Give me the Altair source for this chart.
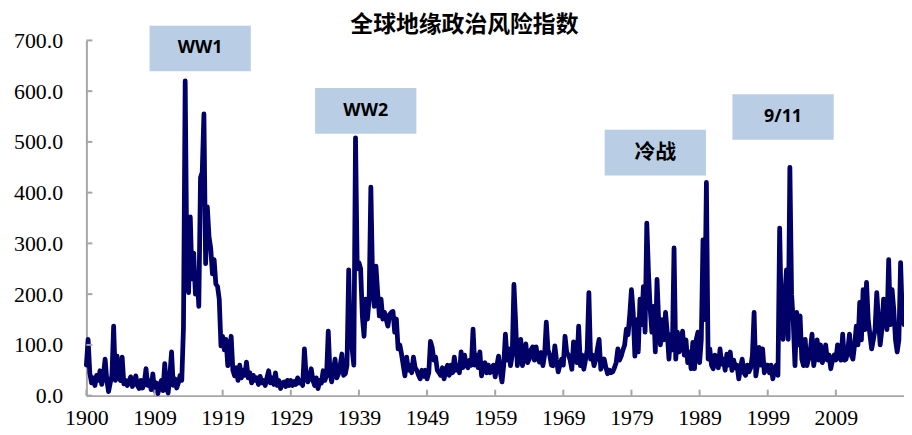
import altair as alt
import pandas as pd

# ---- Geopolitical risk index (quarterly points, by decade) ----
decade_starts = [1900, 1910, 1920, 1930, 1940, 1950, 1960, 1970, 1980, 1990, 2000, 2010]

gpr_1900s = [60, 111, 45, 25, 35, 20, 40, 30, 49, 22, 40, 72, 30, 8, 25, 40,
             137, 30, 78, 35, 30, 76, 23, 30, 20, 28, 37, 18, 25, 39, 20, 14,
             30, 15, 25, 53, 20, 30, 12, 43]
gpr_1910s = [10, 25, 4, 20, 30, 10, 63, 15, 5, 40, 86, 20, 33, 15, 25, 40,
             30, 135, 620, 250, 203, 352, 230, 281, 200, 242, 176, 430,
             440, 555, 260, 372, 313, 290, 240, 268, 220, 215, 190, 98]
gpr_1920s = [117, 90, 111, 59, 70, 117, 50, 39, 55, 30, 60, 35, 50, 40, 66, 35,
             45, 25, 40, 30, 35, 22, 38, 25, 30, 20, 35, 49, 25, 35, 22, 45,
             20, 30, 14, 25, 27, 18, 30, 20]
gpr_1930s = [30, 20, 28, 22, 35, 25, 30, 20, 92, 40, 27, 35, 53, 30, 20, 35,
             14, 30, 25, 49, 30, 40, 127, 45, 27, 50, 72, 35, 43, 60, 82, 40,
             43, 60, 248, 100, 92, 60, 508, 250]
gpr_1940s = [262, 250, 157, 117, 190, 151, 190, 411, 229, 176, 255, 203,
             157, 190, 151, 164, 150, 137, 160, 164, 166, 125, 151, 92,
             100, 82, 60, 39, 76, 50, 60, 45, 76, 55, 50, 40, 33, 50, 38, 50]
gpr_1950s = [33, 45, 107, 95, 70, 76, 50, 45, 40, 55, 33, 50, 60, 40, 60, 45,
             76, 50, 60, 45, 86, 55, 80, 60, 55, 70, 60, 131, 60, 80, 55, 86,
             39, 60, 65, 45, 60, 45, 55, 60]
gpr_1960s = [37, 60, 78, 45, 27, 60, 121, 70, 92, 59, 80, 219, 145, 59, 90, 111,
             59, 80, 102, 65, 72, 90, 96, 70, 96, 75, 66, 85, 59, 80, 145, 90,
             80, 60, 59, 98, 70, 47, 60, 72]
gpr_1970s = [60, 117, 85, 80, 70, 52, 106, 75, 65, 137, 59, 80, 52, 70, 90, 203,
             72, 80, 59, 70, 92, 111, 52, 65, 72, 55, 43, 50, 45, 47, 55, 65,
             92, 70, 78, 90, 100, 131, 120, 160]
gpr_1980s = [209, 164, 78, 150, 86, 190, 140, 215, 125, 340, 242, 170,
             125, 176, 86, 229, 145, 100, 150, 110, 164, 125, 72, 120,
             90, 291, 72, 125, 86, 100, 127, 80, 110, 65, 86, 53, 105, 53, 110, 125]
gpr_1990s = [65, 110, 307, 150, 420, 72, 92, 60, 53, 80, 72, 55, 92, 62, 72, 50,
             82, 60, 86, 50, 70, 55, 60, 33, 55, 72, 45, 40, 60, 47, 55, 80,
             164, 39, 60, 95, 60, 92, 45, 60]
gpr_2000s = [60, 45, 60, 33, 50, 60, 40, 330, 150, 111, 196, 248, 111, 450, 200, 145,
             59, 164, 100, 157, 72, 59, 111, 59, 72, 90, 121, 59, 80, 110, 70, 100,
             65, 75, 100, 70, 80, 53, 70, 80]
gpr_2010s = [70, 100, 75, 70, 121, 70, 72, 90, 121, 80, 72, 100, 137, 100, 184, 110,
             209, 130, 223, 150, 120, 92, 110, 130, 203, 150, 100, 130,
             190, 160, 130, 268, 140, 209, 170, 110, 86, 110, 262, 157]
gpr_last = [(2020.0, 140)]

# ---- annotations ----
ann_labels = ["WW1", "WW2", "冷战", "9/11"]
ann_years = [1916.7, 1941.0, 1983.5, 2002.25]
ann_levels = [684, 561, 479, 549]

title_text = "全球地缘政治风险指数"

# ---- axes ----
x_tick_years = [1900, 1910, 1920, 1930, 1940, 1950, 1960, 1970, 1980, 1990, 2000, 2010]
y_tick_values = [0, 100, 200, 300, 400, 500, 600, 700]

series = [gpr_1900s, gpr_1910s, gpr_1920s, gpr_1930s, gpr_1940s, gpr_1950s,
          gpr_1960s, gpr_1970s, gpr_1980s, gpr_1990s, gpr_2000s, gpr_2010s]
rows = []
for start, vals in zip(decade_starts, series):
    for i, v in enumerate(vals):
        rows.append({"year": start + i * 0.25, "gpr": v})
for yr, v in gpr_last:
    rows.append({"year": yr, "gpr": v})
df = pd.DataFrame(rows)

half_w, half_h = 7.43, 45
ann = pd.DataFrame({"label": ann_labels, "year": ann_years, "level": ann_levels})
ann["x1"] = ann["year"] - half_w
ann["x2"] = ann["year"] + half_w
ann["y1"] = ann["level"] - half_h
ann["y2"] = ann["level"] + half_h

W, H = 824, 358
AXIS_GRAY = "#a6a6a6"
xscale = alt.Scale(domain=[1900, 2020], nice=False, zero=False)
yscale = alt.Scale(domain=[0, 700], nice=False)

xaxis = alt.Axis(values=x_tick_years, ticks=False, grid=False, title=None,
                 labelExpr="datum.value == 1900 ? '1900' : '' + (datum.value - 1)",
                 labelFont="Liberation Serif", labelFontSize=22,
                 labelColor="black", labelPadding=12, labelFlush=False,
                 domainColor=AXIS_GRAY, domainWidth=2, labelOverlap=False)
yaxis = alt.Axis(values=y_tick_values, format=".1f", ticks=False, grid=False, title=None,
                 labelFont="Liberation Serif", labelFontSize=22,
                 labelColor="black", labelPadding=24, labelFlush=False,
                 domainColor=AXIS_GRAY, domainWidth=2)


def X(field):
    return alt.X(field, scale=xscale, axis=xaxis, title=None)


def Y(field):
    return alt.Y(field, scale=yscale, axis=yaxis, title=None)


line = alt.Chart(df).mark_line(
    color="#000066", strokeWidth=4.8, strokeJoin="round", strokeCap="round"
).encode(x=X("year:Q"), y=Y("gpr:Q"))

xt = alt.Chart(pd.DataFrame({"t": x_tick_years})).mark_rule(
    color=AXIS_GRAY, strokeWidth=2
).encode(x=X("t:Q"), y=alt.value(H), y2=alt.value(H - 6))

yt = alt.Chart(pd.DataFrame({"t": y_tick_values})).mark_rule(
    color=AXIS_GRAY, strokeWidth=2
).encode(y=Y("t:Q"), x=alt.value(0), x2=alt.value(6))

boxes = alt.Chart(ann).mark_rect(color="#b9cde5").encode(
    x=X("x1:Q"), x2="x2:Q", y=Y("y1:Q"), y2="y2:Q",
)

txt_latin = alt.Chart(ann).transform_filter(alt.datum.label != "冷战").mark_text(
    font="Open Sans", fontSize=18, fontWeight="bold", color="black",
    align="center", baseline="middle"
).encode(x=X("year:Q"), y=Y("level:Q"), text="label:N")

txt_cjk = alt.Chart(ann).transform_filter(alt.datum.label == "冷战").mark_text(
    font="Noto Sans CJK SC", fontSize=21, fontWeight="bold", color="black",
    align="center", baseline="middle"
).encode(x=X("year:Q"), y=Y("level:Q"), text="label:N")

chart = alt.layer(boxes, line, xt, yt, txt_latin, txt_cjk).properties(
    width=W, height=H,
    title=alt.TitleParams(title_text, font="Noto Sans CJK SC", fontSize=23,
                          fontWeight="bold", color="black", anchor="middle",
                          frame="group", baseline="middle", dx=-31, dy=16, offset=-6),
    autosize=alt.AutoSizeParams(type="none"),
    padding={"left": 79, "top": 31, "right": 0, "bottom": 36},
).configure_view(stroke=None)

chart.save("out.html", embed_options={"renderer": "svg", "actions": False})
